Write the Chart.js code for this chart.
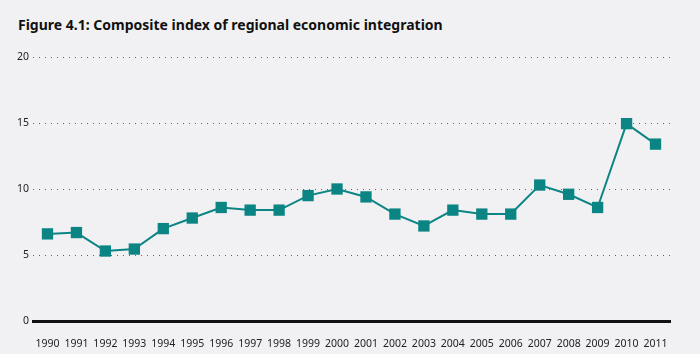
<!DOCTYPE html>
<html>
<head>
<meta charset="utf-8">
<script src="https://cdn.jsdelivr.net/npm/chart.js@4"></script>
<style>
    body { margin: 0; background: #f1f1f3; }
    .wrap { position: relative; width: 700px; height: 354px; background: #f1f1f3; }
    .title { position: absolute; left: 18px; top: 15px; font: bold 14px "Noto Sans", sans-serif; color: #111; }
    canvas { position: absolute; left: 0; top: 0; }
</style>
</head>
<body>
<div class="wrap">
    <div class="title">Figure 4.1: Composite index of regional economic integration</div>
    <canvas id="chart" width="700" height="354"></canvas>
</div>
<script>
const years = ['1990', '1991', '1992', '1993', '1994', '1995', '1996', '1997', '1998', '1999', '2000',
    '2001', '2002', '2003', '2004', '2005', '2006', '2007', '2008', '2009', '2010', '2011'];
const indexValues = [6.6, 6.7, 5.3, 5.45, 7.0, 7.8, 8.6, 8.4, 8.4, 9.5, 10.0,
    9.4, 8.1, 7.2, 8.4, 8.1, 8.1, 10.3, 9.6, 8.6, 14.95, 13.4];
const yTicks = [0, 5, 10, 15, 20];

const teal = '#0b8584';
const tickFont = { family: 'Noto Sans', size: 10.5 };

const ctx = document.getElementById('chart').getContext('2d');
new Chart(ctx, {
    type: 'line',
    data: {
        labels: years,
        datasets: [{
            data: indexValues,
            borderColor: teal,
            backgroundColor: teal,
            borderWidth: 2,
            pointStyle: 'rect',
            pointRadius: 8,
            pointBorderWidth: 0,
            tension: 0,
        }],
    },
    options: {
        responsive: false,
        animation: false,
        layout: { padding: { top: 57, right: 30, left: 0, bottom: 0 } },
        plugins: {
            legend: { display: false },
            tooltip: { enabled: false },
        },
        scales: {
            x: {
                offset: true,
                grid: { display: false },
                border: { display: true, color: '#111', width: 3 },
                ticks: { color: '#222', font: tickFont, padding: 9, maxRotation: 0, autoSkip: false },
                afterFit: (scale) => { scale.height = 33; },
            },
            y: {
                min: 0,
                max: 20,
                afterBuildTicks: (scale) => { scale.ticks = yTicks.map(v => ({ value: v })); },
                grid: {
                    drawTicks: false,
                    color: (c) => c.tick && c.tick.value === 0 ? 'rgba(0,0,0,0)' : '#666',
                    lineWidth: 1,
                },
                border: { display: false, dash: [1, 5] },
                ticks: { color: '#222', font: tickFont, padding: 4 },
                afterFit: (scale) => { scale.width = 33; },
            },
        },
    },
});
</script>
</body>
</html>
